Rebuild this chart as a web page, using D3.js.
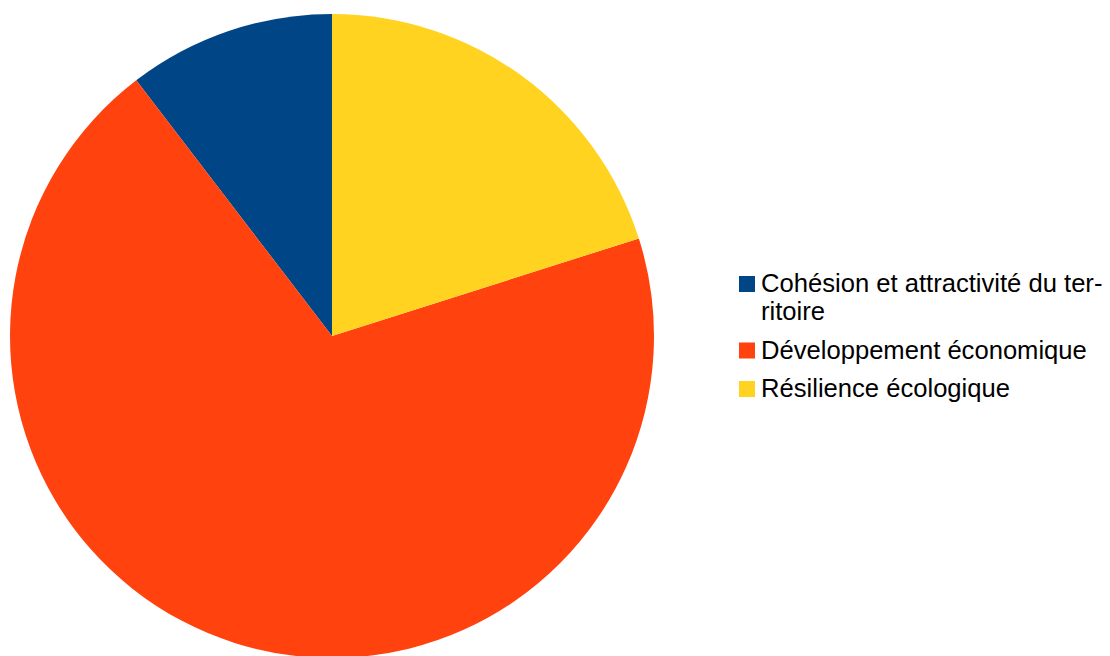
<!DOCTYPE html>
<html>
<head>
<meta charset="utf-8">
<script src="https://cdn.jsdelivr.net/npm/d3@7"></script>
<style>
	body { margin: 0; background: #fff; }
</style>
</head>
<body>
<script>
const width = 1110,
	height = 656,
	cx = 332,
	cy = 336,
	radius = 322;

// values (percent)
const categories = ['Cohésion et attractivité du territoire', 'Développement économique', 'Résilience écologique'];
const legendLines = [['Cohésion et attractivité du ter-', 'ritoire'], ['Développement économique'], ['Résilience écologique']];
const values = [10.4, 69.5, 20.1];
const colors = ['#004586', '#ff420e', '#ffd320'];

let svg = d3.select('body').append('svg')
	.attr('width', width)
	.attr('height', height);

let color = d3.scaleOrdinal().domain(categories).range(colors);

// slices run counter-clockwise from 12 o'clock
let pie = d3.pie()
	.sort(null)
	.value(d => d.value)
	.startAngle(0)
	.endAngle(-2 * Math.PI);

let arc = d3.arc().innerRadius(0).outerRadius(radius);

let data = categories.map((c, i) => ({ name: c, value: values[i] }));

svg.append('g')
	.attr('transform', 'translate(' + cx + ',' + cy + ')')
	.selectAll('path')
	.data(pie(data))
	.enter().append('path')
	.attr('d', arc)
	.attr('fill', d => color(d.data.name));

// legend, y = first baseline
let legend = svg.append('g')
	.attr('transform', 'translate(739,292)');

let y = 0;
legendLines.forEach((lines, i) => {
	let item = legend.append('g').attr('transform', 'translate(0,' + y + ')');
	item.append('rect')
		.attr('y', -16)
		.attr('width', 16)
		.attr('height', 16)
		.attr('fill', color(categories[i]));
	lines.forEach((t, j) => {
		item.append('text')
			.attr('x', 22)
			.attr('y', j * 28)
			.attr('font-family', 'Liberation Sans, Arial, sans-serif')
			.attr('font-size', '25.6px')
			.attr('fill', '#000')
			.text(t);
	});
	y += 38.5 + (lines.length - 1) * 28;
});
</script>
</body>
</html>
